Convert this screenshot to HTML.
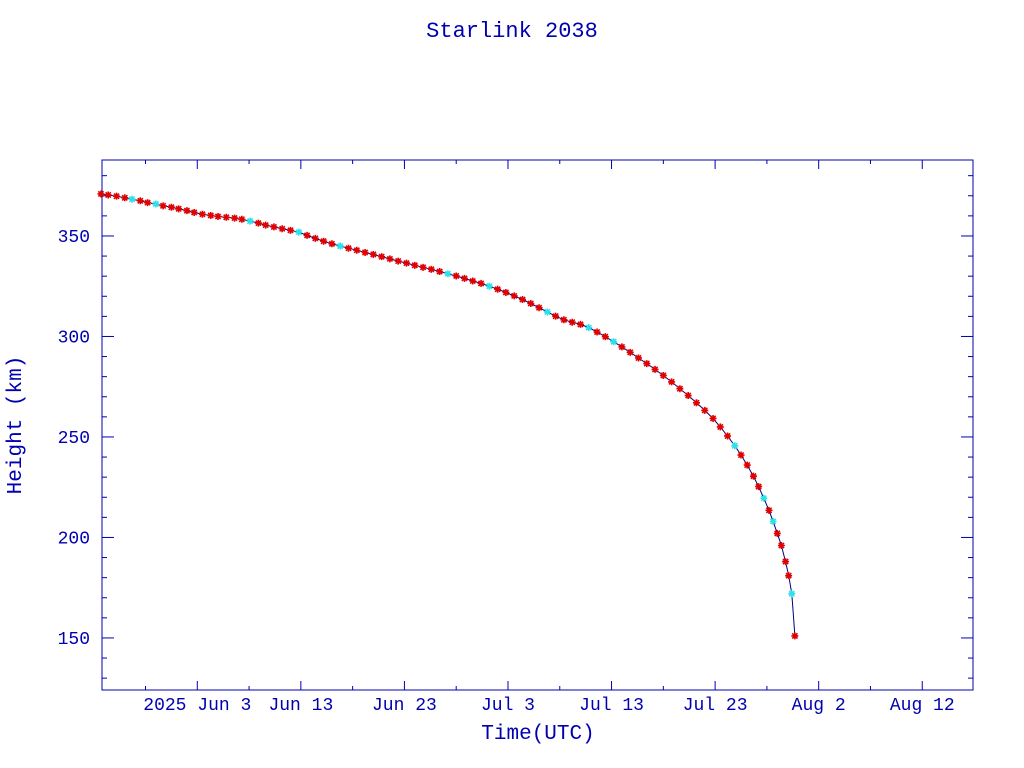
<!DOCTYPE html>
<html><head><meta charset="utf-8"><style>
body{margin:0;background:#fff;}
svg{display:block;font-family:"Liberation Mono",monospace;}
</style></head><body>
<svg id="chart" width="1024" height="768" xmlns="http://www.w3.org/2000/svg">
<text x="512" y="37" text-anchor="middle" font-size="22" fill="#0000b0">Starlink 2038</text>
<rect x="102" y="160" width="871" height="530" fill="none" stroke="#0000b0" stroke-width="1"/>
<text transform="translate(21,425) rotate(-90)" text-anchor="middle" font-size="21" fill="#0000b0">Height (km)</text>
<text x="538" y="739" text-anchor="middle" font-size="21" fill="#0000b0">Time(UTC)</text>
<g id="axes"></g>
<g id="series"></g>
</svg>
<script>
const days=[-9.3,-8.6,-7.8,-7,-6.3,-5.5,-4.8,-4,-3.3,-2.5,-1.8,-1,-0.3,0.5,1.3,2,2.8,3.6,4.3,5.1,5.9,6.6,7.4,8.2,9,9.8,10.6,11.4,12.2,13,13.8,14.6,15.4,16.2,17,17.8,18.6,19.4,20.2,21,21.8,22.6,23.4,24.2,25,25.8,26.6,27.4,28.2,29,29.8,30.6,31.4,32.2,33,33.8,34.6,35.4,36.2,37,37.8,38.6,39.4,40.2,41,41.8,42.6,43.4,44.2,45,45.8,46.6,47.4,48.2,49,49.8,50.5,51.2,51.9,52.5,53.1,53.7,54.2,54.7,55.2,55.6,56,56.4,56.8,57.1,57.4,57.7];
const heights=[370.9,370.4,369.8,369.0,368.3,367.5,366.6,365.9,365.0,364.3,363.5,362.6,361.7,360.8,360.2,359.7,359.3,358.9,358.3,357.4,356.4,355.4,354.5,353.6,352.8,351.9,350.3,348.8,347.4,346.1,345.0,343.9,342.9,341.8,340.8,339.7,338.6,337.5,336.5,335.4,334.4,333.4,332.3,331.2,330.1,328.9,327.6,326.4,325.0,323.5,321.9,320.2,318.4,316.4,314.3,312.2,310.1,308.3,307.1,306.0,304.4,302.2,299.9,297.4,294.8,292.1,289.3,286.5,283.6,280.6,277.4,274.0,270.6,267.0,263.2,259.2,255.0,250.5,245.6,241.0,236.0,230.5,225.3,219.5,213.5,208,202,196,188,181,172,151];
const cyanIdx=[4,7,19,25,30,43,48,55,60,63,78,83,85,90,92];
const yTicks=[150,200,250,300,350];
const xTickDays=[0,10,20,30,40,50,60,70];
const xTickLabels=["2025 Jun  3","Jun 13","Jun 23","Jul  3","Jul 13","Jul 23","Aug  2","Aug 12"];

const X0=102,X1=973,Y0=160,Y1=690;
const dMin=-9.2,dMax=74.9,hMin=124.1,hMax=387.8;
const sx=d=>X0+(d-dMin)/(dMax-dMin)*(X1-X0);
const sy=h=>Y1-(h-hMin)/(hMax-hMin)*(Y1-Y0);
const NS="http://www.w3.org/2000/svg";
const ax=document.getElementById('axes'), se=document.getElementById('series');
function mk(tag,attrs,parent){const e=document.createElementNS(NS,tag);for(const k in attrs)e.setAttribute(k,attrs[k]);parent.appendChild(e);return e;}
const C="#0000b0";
for(let v=130;v<=380;v+=10){
  const major=v%50===0,L=major?12:5,y=sy(v);
  const t1=mk('line',{x1:X0,x2:X0+L,y1:y,y2:y,stroke:C},ax);
  
  
  const t2=mk('line',{x1:X1,x2:X1-L,y1:y,y2:y,stroke:C},ax);
  
  
}
yTicks.forEach(v=>{
  const t=mk('text',{x:X0-12,y:sy(v)+6,'text-anchor':'end','font-size':18,fill:C},ax);
  t.textContent=v;
  
  
});
for(let d=-5;d<=75;d+=5){
  const x=sx(d);if(x<X0||x>X1)continue;
  const major=d%10===0,L=major?9:4;
  const t1=mk('line',{x1:x,x2:x,y1:Y1,y2:Y1-L,stroke:C},ax);
  
  
  const t2=mk('line',{x1:x,x2:x,y1:Y0,y2:Y0+L,stroke:C},ax);
  
  
}
xTickDays.forEach((d,i)=>{
  const t=mk('text',{x:sx(d),y:710,'text-anchor':'middle','font-size':18,fill:C,'xml:space':'preserve'},ax);
  t.textContent=xTickLabels[i];
  
  
});
const pts=days.map((d,i)=>sx(d).toFixed(1)+','+sy(heights[i]).toFixed(1)).join(' ');
const pl=mk('polyline',{points:pts,fill:'none',stroke:'#000080','stroke-width':1},se);


days.forEach((d,i)=>{
  const x=sx(d),y=sy(heights[i]);
  const col=cyanIdx.includes(i)?'#30e0e8':'#e00000';
  const g=mk('path',{d:`M${x-3.5},${y}h7M${x},${y-3.5}v7M${x-2.6},${y-2.6}l5.2,5.2M${x-2.6},${y+2.6}l5.2,-5.2`,stroke:col,'stroke-width':1.6},se);
  
  
});
</script>
</body></html>
